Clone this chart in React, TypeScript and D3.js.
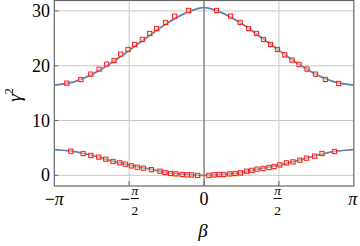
import React from "react";
import { scaleLinear, line, curveCatmullRom } from "d3";

const PI = Math.PI;

// curve samples, beta in units of pi
const curveBetaOverPi = [-1, -0.875, -0.75, -0.625, -0.5, -0.375, -0.25, -0.125, 0, 0.125, 0.25, 0.375, 0.5, 0.625, 0.75, 0.875, 1];
const upperCurve = [16.45, 17.0, 18.4, 20.4, 22.8, 25.3, 27.7, 29.6, 30.6, 29.6, 27.7, 25.3, 22.8, 20.4, 18.4, 17.0, 16.45];
const lowerCurve = [4.7, 4.37, 3.64, 2.7, 1.87, 1.2, 0.5, 0.17, 0, 0.17, 0.5, 1.2, 1.87, 2.7, 3.64, 4.37, 4.7];

// measured points (beta in radians)
const upperPointBeta = [-2.882, -2.589, -2.379, -2.205, -2.044, -1.891, -1.751, -1.598, -1.458, -1.298, -1.143, -0.997, -0.808, -0.62, -0.327,
  0.26, 0.553, 0.754, 0.93, 1.097, 1.244, 1.391, 1.537, 1.69, 1.843, 1.99, 2.157, 2.333, 2.542, 2.821];
const upperPointValue = [16.84, 17.52, 18.49, 19.4, 20.31, 20.99, 22.14, 22.99, 23.91, 24.82, 25.91, 26.82, 27.92, 29.07, 30.11,
  30.11, 29.07, 27.92, 26.82, 25.91, 24.82, 23.91, 22.99, 22.01, 21.04, 20.26, 19.4, 18.49, 17.52, 16.79];
const lowerPointBeta = [-2.798, -2.54, -2.379, -2.212, -2.065, -1.912, -1.772, -1.654, -1.529, -1.403, -1.277, -1.106, -0.928, -0.823, -0.704, -0.593, -0.461, -0.356, -0.264, -0.138,
  0.098, 0.209, 0.314, 0.413, 0.538, 0.649, 0.762, 0.888, 0.999, 1.11, 1.236, 1.361, 1.466, 1.586, 1.726, 1.864, 2.005, 2.145, 2.318, 2.471, 2.732];
const lowerPointValue = [4.43, 4.01, 3.65, 3.34, 2.97, 2.55, 2.3, 2.06, 1.75, 1.51, 1.33, 1.06, 0.78, 0.55, 0.36, 0.29, 0.18, 0.11, 0.11, 0.02,
  0.02, 0.11, 0.18, 0.18, 0.29, 0.36, 0.47, 0.77, 0.93, 1.15, 1.28, 1.46, 1.64, 1.93, 2.3, 2.48, 2.79, 3.16, 3.52, 4.01, 4.38];

const yTicks = [0, 10, 20, 30];
const xGridOverPi = [-0.5, 0.5];

const serif = "'Liberation Serif', 'DejaVu Serif', serif";

export default function App() {
  const x = scaleLinear().domain([-PI, PI]).range([54.3, 353.8]);
  const y = scaleLinear().domain([-1.95, 31.9]).range([186, 0.5]);

  const curvePath = (vals: number[]) =>
    line<number>()
      .x((_, i) => x(curveBetaOverPi[i] * PI))
      .y((d) => y(d))
      .curve(curveCatmullRom)(vals) as string;

  const points = [
    ...upperPointBeta.map((b, i) => [b, upperPointValue[i]]),
    ...lowerPointBeta.map((b, i) => [b, lowerPointValue[i]]),
  ];

  const x0 = x.range()[0];
  const x1 = x.range()[1];
  const yb = y.range()[0];
  const yt = y.range()[1];
  const frame = "#666666";

  return (
    <svg width={360} height={246} style={{ position: "absolute", left: 0, top: 0 }}>
      <rect width={360} height={246} fill="white" />
      {yTicks.map((t) => (
        <line key={"gy" + t} x1={x0} x2={x1} y1={y(t)} y2={y(t)} stroke="#c8c8c8" strokeWidth={1} />
      ))}
      {xGridOverPi.map((t) => (
        <line key={"gx" + t} x1={x(t * PI)} x2={x(t * PI)} y1={yt} y2={yb} stroke="#c8c8c8" strokeWidth={1} />
      ))}
      <line x1={x(0)} x2={x(0)} y1={yt} y2={yb} stroke={frame} strokeWidth={1.2} />
      <rect x={x0} y={yt} width={x1 - x0} height={yb - yt} fill="none" stroke={frame} strokeWidth={1.2} />
      {yTicks.map((t) => (
        <line key={"ty" + t} x1={x0} x2={x0 + 4} y1={y(t)} y2={y(t)} stroke={frame} strokeWidth={1} />
      ))}
      {[-0.5, 0, 0.5].map((t) => (
        <line key={"tx" + t} x1={x(t * PI)} x2={x(t * PI)} y1={yb} y2={yb - 5} stroke={frame} strokeWidth={1} />
      ))}

      <path d={curvePath(upperCurve)} fill="none" stroke="#5e81b5" strokeWidth={1.8} />
      <path d={curvePath(lowerCurve)} fill="none" stroke="#5e81b5" strokeWidth={1.8} />

      {points.map(([b, v], i) => (
        <g key={"p" + i} transform={`translate(${x(b)},${y(v)})`}>
          <rect x={-1.2} y={-1.2} width={4} height={4} fill="none" stroke="#f5a040" strokeOpacity={0.7} strokeWidth={0.8} />
          <rect x={-2} y={-2} width={4.2} height={4.2} fill="white" fillOpacity={0.35} stroke="#ff1010" strokeWidth={0.9} />
        </g>
      ))}

      {yTicks.map((t) => (
        <text key={"ly" + t} x={50} y={y(t) + 6} textAnchor="end" fontFamily={serif} fontSize={18}>
          {t}
        </text>
      ))}

      <text x={x(-PI)} y={205} textAnchor="middle" fontFamily={serif} fontSize={18}>
        −<tspan fontStyle="italic">π</tspan>
      </text>
      <text x={x(0)} y={204.5} textAnchor="middle" fontFamily={serif} fontSize={18}>0</text>
      <text x={x(PI) - 1} y={205} textAnchor="middle" fontFamily={serif} fontSize={18} fontStyle="italic">π</text>

      {/* -pi/2 */}
      <text x={x(-PI / 2) - 4} y={205} textAnchor="middle" fontFamily={serif} fontSize={18}>−</text>
      <text x={x(-PI / 2) + 5.7} y={195} textAnchor="middle" fontFamily={serif} fontSize={13.5} fontStyle="italic">π</text>
      <line x1={x(-PI / 2) + 1.7} x2={x(-PI / 2) + 9.7} y1={198.5} y2={198.5} stroke="black" strokeWidth={1} />
      <text x={x(-PI / 2) + 5.7} y={215} textAnchor="middle" fontFamily={serif} fontSize={13.5}>2</text>

      {/* pi/2 */}
      <text x={x(PI / 2) - 1.3} y={195} textAnchor="middle" fontFamily={serif} fontSize={13.5} fontStyle="italic">π</text>
      <line x1={x(PI / 2) - 5.3} x2={x(PI / 2) + 2.7} y1={198.5} y2={198.5} stroke="black" strokeWidth={1} />
      <text x={x(PI / 2) - 1.3} y={215} textAnchor="middle" fontFamily={serif} fontSize={13.5}>2</text>

      <text x={203} y={236.5} textAnchor="middle" fontFamily={serif} fontSize={19} fontStyle="italic">β</text>

      <text transform="translate(21,95) rotate(-90)" textAnchor="middle" fontFamily={serif} fontSize={19}>
        <tspan fontStyle="italic">γ</tspan>
        <tspan fontSize={12} dy={-8}>2</tspan>
      </text>
    </svg>
  );
}
